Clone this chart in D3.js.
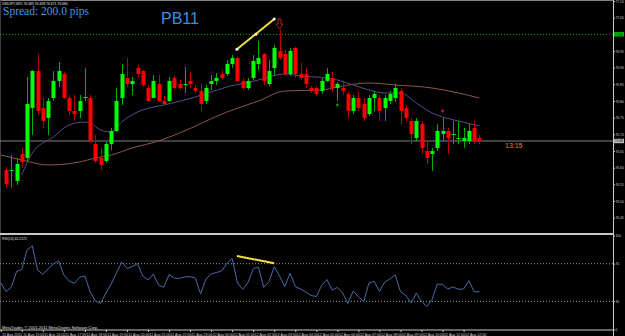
<!DOCTYPE html>
<html>
<head>
<meta charset="utf-8">
<script src="https://cdn.jsdelivr.net/npm/d3@7"></script>
<style>
  body { margin: 0; background: #000; }
  svg { display: block; }
</style>
</head>
<body>
<script>
// USDJPY M15, 91 bars
var open  = [76.593,76.590,76.560,76.641,76.629,76.779,76.890,76.779,76.749,76.809,76.860,76.881,76.809,76.770,76.770,76.809,76.809,76.671,76.629,76.620,76.671,76.710,76.809,76.869,76.851,76.899,76.890,76.839,76.809,76.851,76.800,76.800,76.869,76.851,76.848,76.860,76.839,76.830,76.800,76.851,76.860,76.881,76.881,76.911,76.929,76.860,76.839,76.869,76.911,76.941,76.851,76.899,76.950,76.941,76.881,76.959,76.881,76.881,76.839,76.839,76.830,76.860,76.869,76.839,76.839,76.821,76.770,76.809,76.791,76.761,76.809,76.809,76.779,76.800,76.809,76.830,76.779,76.740,76.689,76.731,76.650,76.641,76.659,76.701,76.710,76.701,76.689,76.680,76.680,76.719,76.689];
var high  = [76.602,76.638,76.629,76.659,76.872,76.893,76.941,76.809,76.809,76.890,76.917,76.887,76.818,76.818,76.818,76.899,76.818,76.698,76.659,76.677,76.719,76.839,76.911,76.929,76.872,76.908,76.893,76.848,76.878,76.878,76.815,76.872,76.875,76.863,76.902,76.887,76.848,76.851,76.848,76.878,76.884,76.893,76.923,76.938,76.932,76.869,76.869,76.938,76.980,76.944,76.923,76.968,77.013,76.953,76.959,76.962,76.914,76.899,76.845,76.845,76.869,76.899,76.887,76.857,76.860,76.827,76.818,76.827,76.809,76.818,76.830,76.818,76.818,76.830,76.851,76.839,76.788,76.749,76.749,76.740,76.680,76.659,76.731,76.749,76.719,76.740,76.740,76.719,76.731,76.740,76.698];
var low   = [76.539,76.539,76.548,76.599,76.617,76.698,76.758,76.719,76.698,76.800,76.842,76.806,76.758,76.740,76.749,76.800,76.674,76.614,76.593,76.614,76.653,76.707,76.788,76.842,76.818,76.872,76.842,76.797,76.809,76.797,76.788,76.797,76.833,76.833,76.824,76.839,76.824,76.770,76.791,76.833,76.848,76.863,76.875,76.899,76.857,76.833,76.833,76.863,76.893,76.848,76.845,76.875,76.923,76.875,76.875,76.869,76.863,76.839,76.824,76.815,76.821,76.857,76.827,76.800,76.818,76.749,76.761,76.770,76.740,76.755,76.770,76.740,76.740,76.791,76.797,76.731,76.740,76.671,76.680,76.641,76.611,76.590,76.650,76.680,76.641,76.671,76.671,76.659,76.671,76.671,76.671];
var close = [76.551,76.593,76.611,76.617,76.791,76.890,76.770,76.740,76.800,76.860,76.890,76.809,76.770,76.761,76.800,76.812,76.680,76.620,76.608,76.671,76.710,76.800,76.881,76.851,76.860,76.881,76.848,76.800,76.860,76.800,76.791,76.860,76.839,76.839,76.851,76.851,76.830,76.791,76.839,76.860,76.869,76.869,76.911,76.929,76.860,76.839,76.860,76.920,76.929,76.860,76.890,76.959,76.929,76.881,76.950,76.881,76.869,76.851,76.830,76.821,76.860,76.881,76.839,76.851,76.830,76.770,76.809,76.779,76.749,76.809,76.821,76.770,76.809,76.821,76.839,76.770,76.749,76.701,76.740,76.659,76.629,76.650,76.710,76.710,76.689,76.701,76.689,76.689,76.710,76.680,76.680];

// moving averages, [bar index, price]
var maFast = [[3,76.578],[5,76.644],[9,76.692],[12,76.728],[15,76.737],[16,76.734],[18,76.713],[20,76.707],[22,76.737],[25,76.767],[28,76.782],[30,76.788],[36,76.812],[42,76.842],[48,76.863],[53,76.881],[56,76.875],[61,76.869],[63,76.863],[66,76.848],[69,76.833],[72,76.824],[75,76.824],[78,76.794],[81,76.764],[83,76.752],[86,76.740],[90,76.725]];
var maSlow = [[-1,76.638],[3,76.623],[8,76.608],[14,76.617],[17,76.629],[20,76.638],[24,76.659],[29,76.680],[33,76.704],[42,76.767],[48,76.800],[53,76.830],[60,76.833],[63,76.842],[69,76.854],[74,76.848],[81,76.839],[86,76.824],[90,76.809]];

// RSI(14), bars -1..90
var rsi = [49.5,40.4,44.9,61.5,64.0,84.6,89.1,63.3,58.7,64.4,69.7,72.9,58.0,51.6,49.1,55.5,56.9,39.9,30.3,27.9,38.8,48.4,60.1,71.5,65.1,66.8,70.2,56.9,52.7,59.0,47.3,44.9,58.5,54.5,54.5,55.9,56.2,54.8,37.8,53.7,59.0,60.6,62.2,70.4,75.5,49.5,42.8,49.7,64.9,66.2,44.9,50.9,66.8,56.9,45.7,59.8,45.7,43.1,39.9,36.2,35.1,46.8,53.2,42.0,44.7,38.8,27.7,41.0,34.9,29.6,49.5,51.1,40.4,50.5,53.7,58.0,40.2,36.2,28.2,38.8,29.8,24.5,31.9,48.4,47.9,43.1,45.2,42.8,43.1,51.9,40.2,40.2];

var priceTicks = [77.10,77.05,77.00,76.95,76.90,76.85,76.80,76.75,76.70,76.65,76.60,76.55,76.50,76.45];
var rsiLevels = [70, 30];
var rsiTicks = [100, 70, 30, 0];
var xTickIdx = [-1,3,7,11,15,19,23,27,31,35,39,43,47,51,55,59,63,67,71,75,79,83,87];
var xLabels = ["11 Aug 2011","11 Aug 15:00","11 Aug 16:00","11 Aug 17:00","11 Aug 18:00","11 Aug 19:00","11 Aug 20:00","11 Aug 21:00","11 Aug 22:00","11 Aug 23:00","12 Aug 00:00","12 Aug 01:00","12 Aug 02:00","12 Aug 03:00","12 Aug 04:00","12 Aug 05:00","12 Aug 06:00","12 Aug 07:00","12 Aug 08:00","12 Aug 09:00","12 Aug 10:00","12 Aug 11:00","12 Aug 12:00"];

// drawn objects
var alertLevel = 77.000;
var trendMain = [[43.9,76.955],[47.5,77.000],[51,77.046]];
var trendRsi = [[43.9,78.2],[51,70.4]];
var arrowBar = 52, arrowPrice = 77.016;
var marks = [{i:63, p:76.788, c:"#00c000"}, {i:83, p:76.770, c:"#ff2020"}];

var width = 625, height = 336;
var axisX = 613;
var tickFont = "3.3px";

var svg = d3.select("body").append("svg")
  .attr("width", width)
  .attr("height", height)
  .style("background", "#000");

var x = d3.scaleLinear().domain([0, 90]).range([6, 479.4]);
var y = d3.scaleLinear().domain([76.4, 77.1]).range([234.3, 1]);
var yr = d3.scaleLinear().domain([0, 100]).range([329.5, 235.5]);

// frame
svg.append("line").attr("x1", 0).attr("x2", axisX).attr("y1", 0.5).attr("y2", 0.5).style("stroke", "#808080");
svg.append("line").attr("x1", 0.5).attr("x2", 0.5).attr("y1", 0).attr("y2", 330).style("stroke", "#404040");
svg.append("line").attr("x1", 0).attr("x2", axisX).attr("y1", 234).attr("y2", 234).style("stroke", "#c8c8c8").style("stroke-width", 2);
svg.append("line").attr("x1", 0).attr("x2", axisX).attr("y1", 330).attr("y2", 330).style("stroke", "#c8c8c8");

// alert level (green dotted)
svg.append("line")
  .attr("x1", 0).attr("x2", axisX)
  .attr("y1", y(alertLevel)).attr("y2", y(alertLevel))
  .style("stroke", "#00b000").style("stroke-dasharray", "1,2");

// bid line
var last = close[close.length - 1];
svg.append("line")
  .attr("x1", 0).attr("x2", axisX)
  .attr("y1", y(last)).attr("y2", y(last))
  .style("stroke", "#808080");

// moving averages
var line = d3.line().x(function(d) { return x(d[0]); }).y(function(d) { return y(d[1]); }).curve(d3.curveMonotoneX);
svg.append("path").datum(maSlow).attr("d", line).style("fill", "none").style("stroke", "#8a5848").style("stroke-width", 1);
svg.append("path").datum(maFast).attr("d", line).style("fill", "none").style("stroke", "#5a4a8c").style("stroke-width", 1);

// candles
var bars = d3.range(open.length);
var up = function(i) { return close[i] >= open[i]; };

svg.selectAll(".wick").data(bars).enter().append("line")
  .attr("class", "wick")
  .attr("x1", function(i) { return Math.round(x(i)) + 0.5; })
  .attr("x2", function(i) { return Math.round(x(i)) + 0.5; })
  .attr("y1", function(i) { return y(high[i]); })
  .attr("y2", function(i) { return y(low[i]); })
  .style("stroke", function(i) { return up(i) ? "#00b000" : "#c00000"; });

svg.selectAll(".body").data(bars).enter().append("rect")
  .attr("class", "body")
  .attr("x", function(i) { return Math.round(x(i)) - 1.5; })
  .attr("width", 4)
  .attr("y", function(i) { return y(Math.max(open[i], close[i])); })
  .attr("height", function(i) { return Math.max(1, Math.abs(y(open[i]) - y(close[i]))); })
  .style("fill", function(i) { return up(i) ? "#00ff00" : "#ff0000"; });

// small markers
marks.forEach(function(m) {
  var cx = x(m.i), cy = y(m.p);
  svg.append("path").attr("d", "M" + (cx - 1.5) + "," + cy + "H" + (cx + 1.5) + "M" + cx + "," + (cy - 1.5) + "V" + (cy + 1.5))
    .style("stroke", m.c);
});

// yellow trendline
svg.append("path").datum([trendMain[0], trendMain[2]])
  .attr("d", d3.line().x(function(d) { return x(d[0]); }).y(function(d) { return y(d[1]); }))
  .style("stroke", "#f0e040").style("stroke-width", 2);
svg.selectAll(".tdot").data(trendMain).enter().append("circle")
  .attr("cx", function(d) { return x(d[0]); })
  .attr("cy", function(d) { return y(d[1]); })
  .attr("r", 1.5).style("fill", "#ffffff");

// down arrow
var ax = x(arrowBar), ay = y(arrowPrice);
svg.append("path")
  .attr("d", "M" + (ax - 1.5) + "," + (ay - 10) + "H" + (ax + 1.5) + "V" + (ay - 5) + "H" + (ax + 3.5) +
       "L" + ax + "," + ay + "L" + (ax - 3.5) + "," + (ay - 5) + "H" + (ax - 1.5) + "Z")
  .style("fill", "none").style("stroke", "#b02020").style("stroke-width", 1);

// price axis
svg.append("line").attr("x1", axisX + 0.5).attr("x2", axisX + 0.5).attr("y1", 0).attr("y2", 336).style("stroke", "#c8c8c8");
var yAxis = svg.append("g")
  .attr("transform", "translate(" + (axisX + 0.5) + ",0)")
  .call(d3.axisRight(y).tickValues(priceTicks).tickFormat(d3.format(".2f")).tickSize(1.5).tickPadding(0.5));
yAxis.select(".domain").remove();
yAxis.selectAll("line").style("stroke", "#c8c8c8");
yAxis.selectAll("text").style("fill", "#d0d0d0").style("font-family", "Liberation Sans").style("font-size", tickFont);

// price labels for alert and bid
[[alertLevel, "#00c000"], [last, "#c0c0c0"]].forEach(function(l) {
  svg.append("rect").attr("x", axisX + 1).attr("y", y(l[0]) - 2.2).attr("width", 10).attr("height", 4.4).style("fill", l[1]);
  svg.append("text").attr("x", axisX + 1.6).attr("y", y(l[0]) + 1.2).text(l[0].toFixed(2))
    .style("fill", "#000").style("font-family", "Liberation Sans").style("font-size", tickFont);
});

// RSI levels
svg.selectAll(".lvl").data(rsiLevels).enter().append("line")
  .attr("x1", 0).attr("x2", axisX)
  .attr("y1", function(d) { return yr(d); }).attr("y2", function(d) { return yr(d); })
  .style("stroke", "#a0a0a0").style("stroke-dasharray", "1,2");

var rsiLine = d3.line().x(function(d, i) { return x(i - 1); }).y(function(d) { return yr(d); });
svg.append("path").datum(rsi).attr("d", rsiLine)
  .style("fill", "none").style("stroke", "#4a6aa8").style("stroke-width", 1);

svg.append("path").datum(trendRsi)
  .attr("d", d3.line().x(function(d) { return x(d[0]); }).y(function(d) { return yr(d[1]); }))
  .style("stroke", "#f0e040").style("stroke-width", 2);

var rAxis = svg.append("g")
  .attr("transform", "translate(" + (axisX + 0.5) + ",0)")
  .call(d3.axisRight(yr).tickValues(rsiTicks).tickSize(1.5).tickPadding(0.5));
rAxis.select(".domain").remove();
rAxis.selectAll("line").style("stroke", "#c8c8c8");
rAxis.selectAll("text").style("fill", "#d0d0d0").style("font-family", "Liberation Sans").style("font-size", tickFont);

// time axis
var xAxis = svg.append("g")
  .attr("transform", "translate(0,330)")
  .call(d3.axisBottom(x).tickValues(xTickIdx).tickSize(2).tickPadding(1)
    .tickFormat(function(d, i) { return xLabels[i]; }));
xAxis.select(".domain").remove();
xAxis.selectAll("line").style("stroke", "#c8c8c8");
xAxis.selectAll("text").attr("text-anchor", "start").attr("x", 1).attr("dy", "0.7em")
  .style("fill", "#d0d0d0").style("font-family", "Liberation Sans").style("font-size", "3.6px");

// texts
svg.append("text").attr("x", 2).attr("y", 4.5)
  .text("USDJPY,M15  76.689 76.698 76.671 76.680")
  .style("fill", "#e0e0e0").style("font-family", "Liberation Sans").style("font-size", "3.4px");
svg.append("text").attr("x", 3).attr("y", 15)
  .text("Spread: 200.0 pips")
  .style("fill", "#3d9be9").style("font-family", "Liberation Serif").style("font-size", "11.5px");
svg.append("text").attr("x", 161).attr("y", 24)
  .text("PB11")
  .style("fill", "#3a8fe6").style("font-family", "Liberation Sans").style("font-size", "16px");
svg.append("text").attr("x", 505).attr("y", 148)
  .text("13:15")
  .style("fill", "#e08a30").style("font-family", "Liberation Sans").style("font-size", "7px");
svg.append("text").attr("x", 2).attr("y", 240)
  .text("RSI(14) 40.2172")
  .style("fill", "#e0e0e0").style("font-family", "Liberation Sans").style("font-size", "3.4px");
svg.append("text").attr("x", 2).attr("y", 329)
  .text("MetaTrader, \u00a9 2001-2011 MetaQuotes Software Corp.")
  .style("fill", "#e0e0e0").style("font-family", "Liberation Sans").style("font-size", "4px");
</script>
</body>
</html>
